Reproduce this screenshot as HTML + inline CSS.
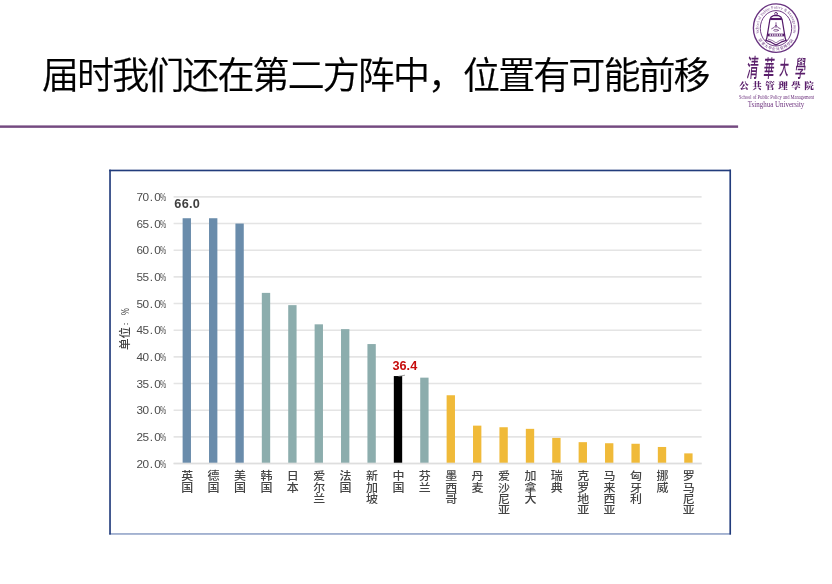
<!DOCTYPE html>
<html lang="zh-CN">
<head>
<meta charset="utf-8">
<title>届时我们还在第二方阵中，位置有可能前移</title>
<style>
html,body{margin:0;padding:0;background:#fff;}
body{width:832px;height:584px;position:relative;overflow:hidden;font-family:"Liberation Sans","Noto Sans CJK SC",sans-serif;}
.title{position:absolute;left:42px;top:50.6px;margin:0;font-weight:350;font-size:37px;line-height:52px;white-space:nowrap;color:#000;font-family:"Liberation Sans","Noto Sans CJK SC",sans-serif;letter-spacing:-1.91px;-webkit-text-stroke:0.22px #000;}
svg.logo{position:absolute;left:0;top:0;width:832px;height:584px;}
svg.plot{position:absolute;left:0;top:0;width:832px;height:584px;}
.yl{position:absolute;left:120px;width:46.2px;text-align:right;font-family:"Liberation Sans",sans-serif;font-size:11.8px;letter-spacing:-0.7px;line-height:16px;height:16px;color:#4c4c4c;white-space:nowrap;}
.yl .dot{letter-spacing:1.3px;margin-left:1.3px;}
.yl .pc{display:inline-block;letter-spacing:0;transform:scaleX(0.58);transform-origin:0 50%;margin-right:-4.4px;}
.xl{position:absolute;top:470.1px;width:20px;text-align:center;font-family:"Noto Sans CJK SC","Liberation Sans",sans-serif;font-size:12px;line-height:12.8px;color:#444;font-weight:500;transform:scaleY(0.9);transform-origin:50% 0;}
.ytitle{position:absolute;left:116.5px;top:350.2px;height:14px;line-height:14px;transform:rotate(-90deg);transform-origin:0 0;white-space:nowrap;font-family:"Noto Sans CJK SC","Liberation Sans",sans-serif;font-size:11.6px;letter-spacing:0;color:#404040;font-weight:500;}
.ytitle .c{display:inline-block;width:11.6px;font-size:6.5px;letter-spacing:0;text-align:left;text-indent:1.2px;position:relative;top:-1.3px;}
.ytitle .p{display:inline-block;font-family:"Liberation Sans",sans-serif;font-weight:400;letter-spacing:0;transform:scaleX(0.66);transform-origin:0 50%;}
.dl{position:absolute;font-weight:bold;letter-spacing:0.3px;font-size:12.7px;line-height:14px;white-space:nowrap;font-family:"Liberation Sans",sans-serif;}
</style>
</head>
<body>
<h1 class="title">届时我们还在第二方阵中，位置有可能前移</h1>
<svg class="plot" viewBox="0 0 832 584" width="832" height="584">
<rect x="0" y="125.4" width="738.1" height="2.45" fill="#744a80"/>
<rect x="109.2" y="533.2" width="621.8" height="1.5" fill="#8c9ec5"/>
<rect x="109.2" y="169.65" width="621.8" height="1.65" fill="#223c7c"/>
<rect x="109.2" y="169.65" width="1.65" height="364.9" fill="#223c7c"/>
<rect x="729.4" y="169.65" width="1.65" height="364.9" fill="#223c7c"/>
<line x1="173.6" x2="701.6" y1="463.50" y2="463.50" stroke="#e4e4e4" stroke-width="1.6"/>
<line x1="173.6" x2="701.6" y1="436.84" y2="436.84" stroke="#e4e4e4" stroke-width="1.6"/>
<line x1="173.6" x2="701.6" y1="410.18" y2="410.18" stroke="#e4e4e4" stroke-width="1.6"/>
<line x1="173.6" x2="701.6" y1="383.52" y2="383.52" stroke="#e4e4e4" stroke-width="1.6"/>
<line x1="173.6" x2="701.6" y1="356.86" y2="356.86" stroke="#e4e4e4" stroke-width="1.6"/>
<line x1="173.6" x2="701.6" y1="330.20" y2="330.20" stroke="#e4e4e4" stroke-width="1.6"/>
<line x1="173.6" x2="701.6" y1="303.54" y2="303.54" stroke="#e4e4e4" stroke-width="1.6"/>
<line x1="173.6" x2="701.6" y1="276.88" y2="276.88" stroke="#e4e4e4" stroke-width="1.6"/>
<line x1="173.6" x2="701.6" y1="250.22" y2="250.22" stroke="#e4e4e4" stroke-width="1.6"/>
<line x1="173.6" x2="701.6" y1="223.56" y2="223.56" stroke="#e4e4e4" stroke-width="1.6"/>
<line x1="173.6" x2="701.6" y1="196.90" y2="196.90" stroke="#e4e4e4" stroke-width="1.6"/>
<rect x="182.62" y="218.23" width="8.35" height="244.67" fill="#6a8cab"/>
<rect x="209.02" y="218.23" width="8.35" height="244.67" fill="#6a8cab"/>
<rect x="235.42" y="223.56" width="8.35" height="239.34" fill="#6a8cab"/>
<rect x="261.82" y="292.88" width="8.35" height="170.02" fill="#8cadad"/>
<rect x="288.22" y="305.14" width="8.35" height="157.76" fill="#8cadad"/>
<rect x="314.62" y="324.33" width="8.35" height="138.57" fill="#8cadad"/>
<rect x="341.02" y="329.13" width="8.35" height="133.77" fill="#8cadad"/>
<rect x="367.43" y="344.06" width="8.35" height="118.84" fill="#8cadad"/>
<rect x="393.82" y="376.06" width="8.35" height="86.84" fill="#000000"/>
<rect x="420.22" y="377.65" width="8.35" height="85.25" fill="#8cadad"/>
<rect x="446.62" y="395.25" width="8.35" height="67.65" fill="#f0ba39"/>
<rect x="473.02" y="425.64" width="8.35" height="37.26" fill="#f0ba39"/>
<rect x="499.43" y="427.24" width="8.35" height="35.66" fill="#f0ba39"/>
<rect x="525.83" y="428.84" width="8.35" height="34.06" fill="#f0ba39"/>
<rect x="552.23" y="437.91" width="8.35" height="24.99" fill="#f0ba39"/>
<rect x="578.62" y="442.17" width="8.35" height="20.73" fill="#f0ba39"/>
<rect x="605.02" y="443.24" width="8.35" height="19.66" fill="#f0ba39"/>
<rect x="631.43" y="443.77" width="8.35" height="19.13" fill="#f0ba39"/>
<rect x="657.83" y="446.97" width="8.35" height="15.93" fill="#f0ba39"/>
<rect x="684.23" y="453.37" width="8.35" height="9.53" fill="#f0ba39"/>
<line x1="173.6" x2="701.6" y1="463.50" y2="463.50" stroke="#dedede" stroke-width="1.6"/>
<line x1="398.5" y1="376.3" x2="405" y2="375.2" stroke="#8a8a8a" stroke-width="0.8"/>
</svg>
<div class="yl" style="top:455.50px">20<span class="dot">.</span>0<span class="pc">%</span></div>
<div class="yl" style="top:428.84px">25<span class="dot">.</span>0<span class="pc">%</span></div>
<div class="yl" style="top:402.18px">30<span class="dot">.</span>0<span class="pc">%</span></div>
<div class="yl" style="top:375.52px">35<span class="dot">.</span>0<span class="pc">%</span></div>
<div class="yl" style="top:348.86px">40<span class="dot">.</span>0<span class="pc">%</span></div>
<div class="yl" style="top:322.20px">45<span class="dot">.</span>0<span class="pc">%</span></div>
<div class="yl" style="top:295.54px">50<span class="dot">.</span>0<span class="pc">%</span></div>
<div class="yl" style="top:268.88px">55<span class="dot">.</span>0<span class="pc">%</span></div>
<div class="yl" style="top:242.22px">60<span class="dot">.</span>0<span class="pc">%</span></div>
<div class="yl" style="top:215.56px">65<span class="dot">.</span>0<span class="pc">%</span></div>
<div class="yl" style="top:188.90px">70<span class="dot">.</span>0<span class="pc">%</span></div>
<div class="ytitle">单位<span class="c">：</span><span class="p">%</span></div>
<div class="xl" style="left:177.20px">英<br>国</div>
<div class="xl" style="left:203.60px">德<br>国</div>
<div class="xl" style="left:230.00px">美<br>国</div>
<div class="xl" style="left:256.40px">韩<br>国</div>
<div class="xl" style="left:282.80px">日<br>本</div>
<div class="xl" style="left:309.20px">爱<br>尔<br>兰</div>
<div class="xl" style="left:335.60px">法<br>国</div>
<div class="xl" style="left:362.00px">新<br>加<br>坡</div>
<div class="xl" style="left:388.40px">中<br>国</div>
<div class="xl" style="left:414.80px">芬<br>兰</div>
<div class="xl" style="left:441.20px">墨<br>西<br>哥</div>
<div class="xl" style="left:467.60px">丹<br>麦</div>
<div class="xl" style="left:494.00px">爱<br>沙<br>尼<br>亚</div>
<div class="xl" style="left:520.40px">加<br>拿<br>大</div>
<div class="xl" style="left:546.80px">瑞<br>典</div>
<div class="xl" style="left:573.20px">克<br>罗<br>地<br>亚</div>
<div class="xl" style="left:599.60px">马<br>来<br>西<br>亚</div>
<div class="xl" style="left:626.00px">匈<br>牙<br>利</div>
<div class="xl" style="left:652.40px">挪<br>威</div>
<div class="xl" style="left:678.80px">罗<br>马<br>尼<br>亚</div>
<div class="dl" style="left:174.3px;top:196.6px;color:#404040">66.0</div>
<div class="dl" style="left:392.4px;top:359px;color:#c60c0c;letter-spacing:0.05px">36.4</div>
<svg class="logo" viewBox="0 0 832 584" width="832" height="584">
<defs>
<path id="arcTop" d="M760.86,37.80 A17.6,19.4 0 1 1 791.34,37.80"/>
<path id="arcBot" d="M755.81,31.95 A20.6,22.2 0 0 0 796.39,31.95"/>
</defs>
<g fill="none" stroke="#693380">
<ellipse cx="776.1" cy="28.1" rx="22.7" ry="24.2" stroke-width="1.35"/>
<ellipse cx="776.0" cy="28.3" rx="15.7" ry="17.7" stroke-width="0.95"/>
</g>
<g fill="#754388" font-family="'Liberation Serif','Noto Serif CJK SC',serif">
<text font-size="4.15" letter-spacing="0.04"><textPath href="#arcTop" startOffset="50%" text-anchor="middle">School of Public Policy &amp; Management</textPath></text>
<text font-size="3.7" font-weight="bold" letter-spacing="0.62"><textPath href="#arcBot" startOffset="50%" text-anchor="middle">清華大學公共管理學院</textPath></text>
</g>
<!-- bell -->
<g stroke="#54196a" fill="none" stroke-linejoin="round" stroke-linecap="round">
<ellipse cx="776" cy="13.8" rx="1.35" ry="1.5" stroke-width="0.8"/>
<path d="M773.5,15.7 Q770.6,16.5 769.9,19.4 L766.9,37.6 Q766.6,39.4 765.7,40.4 L770.6,41.9 L776,45.1 L781.4,41.9 L786.3,40.4 Q785.4,39.4 785.1,37.6 L782.1,19.4 Q781.4,16.5 778.5,15.7 Z" stroke-width="1.2" fill="#fff"/>
<path d="M770.1,19.0 H781.9" stroke-width="2.1" stroke-linecap="butt"/>
<path d="M767.4,35.0 H784.6" stroke-width="2.7" stroke-linecap="butt"/>
<path d="M769.6,35.0 H782.4" stroke="#fff" stroke-width="1.3" stroke-dasharray="1.5 0.8" stroke-linecap="butt"/>
<path d="M776,22.7 V27.6 M776,25.4 Q775,27.6 771.7,28.8 M776,25.4 Q777,27.6 780.3,28.8" stroke-width="0.7"/>
<ellipse cx="776" cy="30.3" rx="2.4" ry="0.95" stroke-width="0.6"/>
<path d="M768.4,39.3 L772.2,40.4 L776,42.9 L779.8,40.4 L783.6,39.3" stroke-width="0.6"/>
</g>
<!-- wordmark -->
<g fill="#6b2f7c">
<text transform="translate(746.3,76.9) scale(0.8,1.72) skewX(-10)" font-family="'Noto Sans CJK SC','Liberation Sans',sans-serif" font-weight="500" font-size="13.6" letter-spacing="6.3" fill="#5a1f6b"><tspan font-size="14.6">清</tspan>華<tspan font-size="11.6" dy="-1">大</tspan><tspan dy="1" dx="1.6">學</tspan></text>
<text x="739.2" y="89.2" font-family="'Noto Serif CJK SC','Liberation Serif',serif" font-weight="900" font-size="9.6" letter-spacing="3.42" fill="#5a1f6b">公共管理學院</text>
<text x="776.6" y="98.6" text-anchor="middle" font-family="'Liberation Serif',serif" font-size="5.15" textLength="75" lengthAdjust="spacingAndGlyphs">School of Public Policy and Management</text>
<text x="776.1" y="106.5" text-anchor="middle" font-family="'Liberation Serif',serif" font-size="7.55" textLength="56.5" lengthAdjust="spacingAndGlyphs">Tsinghua University</text>
</g>
</svg>
</body>
</html>
